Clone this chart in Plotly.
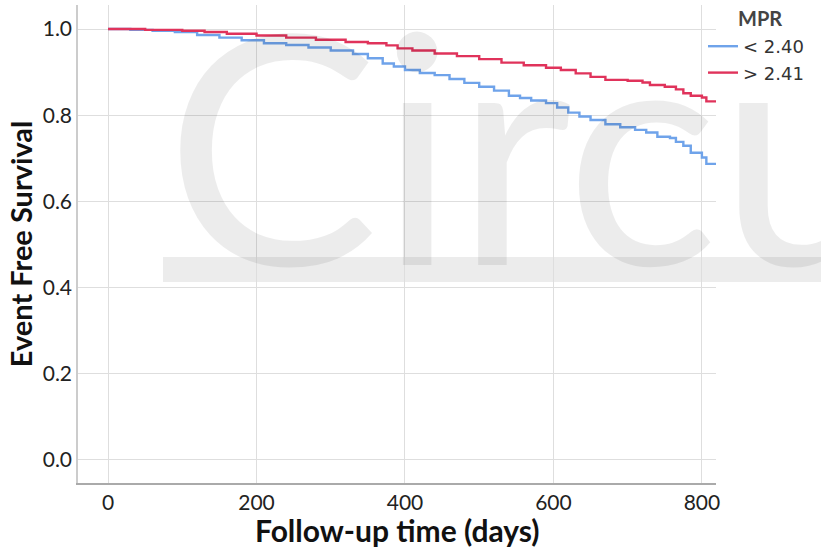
import plotly.graph_objects as go

# Kaplan-Meier readings (days, survival)
days_low = [0, 30, 60, 90, 120, 150, 180, 210, 240, 270, 300, 330, 350, 370, 385, 400,
            420, 440, 460, 480, 500, 520, 540, 555, 570, 590, 605, 620, 635, 650, 670,
            690, 710, 725, 740, 757, 765, 775, 785, 800, 806, 822]
surv_low = [1.0, 0.998, 0.996, 0.993, 0.986, 0.980, 0.974, 0.967, 0.963, 0.957, 0.950,
            0.942, 0.932, 0.920, 0.913, 0.905, 0.898, 0.893, 0.884, 0.875, 0.866, 0.857,
            0.845, 0.840, 0.834, 0.828, 0.818, 0.806, 0.797, 0.789, 0.779, 0.772, 0.766,
            0.760, 0.750, 0.747, 0.738, 0.729, 0.713, 0.702, 0.687, 0.675]

days_high = [0, 50, 100, 130, 160, 200, 240, 280, 320, 350, 375, 390, 410, 440, 470, 500,
             530, 560, 590, 610, 630, 650, 670, 700, 720, 730, 750, 765, 775, 785, 800,
             806, 822]
surv_high = [1.0, 0.998, 0.996, 0.993, 0.989, 0.985, 0.980, 0.975, 0.970, 0.967, 0.962,
             0.955, 0.950, 0.943, 0.937, 0.930, 0.922, 0.916, 0.910, 0.905, 0.897, 0.889,
             0.882, 0.880, 0.876, 0.870, 0.866, 0.860, 0.851, 0.845, 0.841, 0.832, 0.827]

series_names = ["< 2.40", "> 2.41"]
legend_title = "MPR"
x_title = "Follow-up time (days)"
y_title = "Event Free Survival"
x_ticks = [0, 200, 400, 600, 800]
y_ticks = [0.0, 0.2, 0.4, 0.6, 0.8, 1.0]
watermark = "Circu"

FONT = "Lato"
L, R, T, B = 78, 105, 5, 71
PW, PH = 821 - L - R, 554 - T - B


def px(x):
    return (x - L) / PW


def py(y):
    return (554 - B - y) / PH


fig = go.Figure()
fig.add_trace(go.Scatter(x=days_low, y=surv_low, mode="lines", line_shape="hv",
                         name=series_names[0],
                         line=dict(color="#6fa3ea", width=2.4)))
fig.add_trace(go.Scatter(x=days_high, y=surv_high, mode="lines", line_shape="hv",
                         name=series_names[1],
                         line=dict(color="#e0335b", width=2.4)))

# watermark bar
fig.add_shape(type="rect", xref="paper", yref="paper",
              x0=px(163), x1=px(830), y0=py(282), y1=py(257),
              fillcolor="#ececec", line=dict(width=0), layer="below")

fig.add_annotation(text=watermark, xref="paper", yref="paper",
                   x=px(163), y=py(335),
                   xanchor="left", yanchor="bottom", showarrow=False,
                   font=dict(family=FONT, size=320, color="rgba(0,0,0,0.075)", weight=400))

# legend title
fig.add_annotation(text="<b>" + legend_title + "</b>", xref="paper", yref="paper",
                   x=px(760), y=py(18), xanchor="center", yanchor="middle", showarrow=False,
                   font=dict(family=FONT, size=20, color="#444"))

# x-axis title
fig.add_annotation(text="<b>" + x_title + "</b>", xref="paper", yref="paper",
                   x=px(397), y=py(530), xanchor="center", yanchor="middle", showarrow=False,
                   font=dict(family=FONT, size=30, color="#111"))

fig.update_layout(
    width=821, height=554,
    margin=dict(l=L, r=R, t=T, b=B, autoexpand=False),
    paper_bgcolor="white", plot_bgcolor="rgba(0,0,0,0)",
    font=dict(family=FONT, color="#222"),
    legend=dict(x=px(703), xanchor="left", y=py(28), yanchor="top",
                font=dict(size=18, color="#333", family="DejaVu Sans"),
                bgcolor="rgba(0,0,0,0)", tracegroupgap=0, itemwidth=30),
    xaxis=dict(range=[-40.5, 819], tickvals=x_ticks, ticktext=[str(v) for v in x_ticks],
               showgrid=True, gridcolor="#dedede", gridwidth=1, zeroline=False,
               showline=True, linecolor="#aaaaaa", linewidth=1.5, ticks="",
               tickfont=dict(size=21, color="#222")),
    yaxis=dict(range=[-0.0534, 1.0557], tickvals=y_ticks, ticktext=[f"{v:.1f}" for v in y_ticks],
               showgrid=True, gridcolor="#dedede", gridwidth=1, zeroline=False,
               showline=True, linecolor="#cccccc", linewidth=1.5, ticks="",
               tickfont=dict(size=21, color="#222"),
               title=dict(text="<b>" + y_title + "</b>", font=dict(size=29, color="#111"),
                          standoff=2)),
)

fig.write_html("out.html")
